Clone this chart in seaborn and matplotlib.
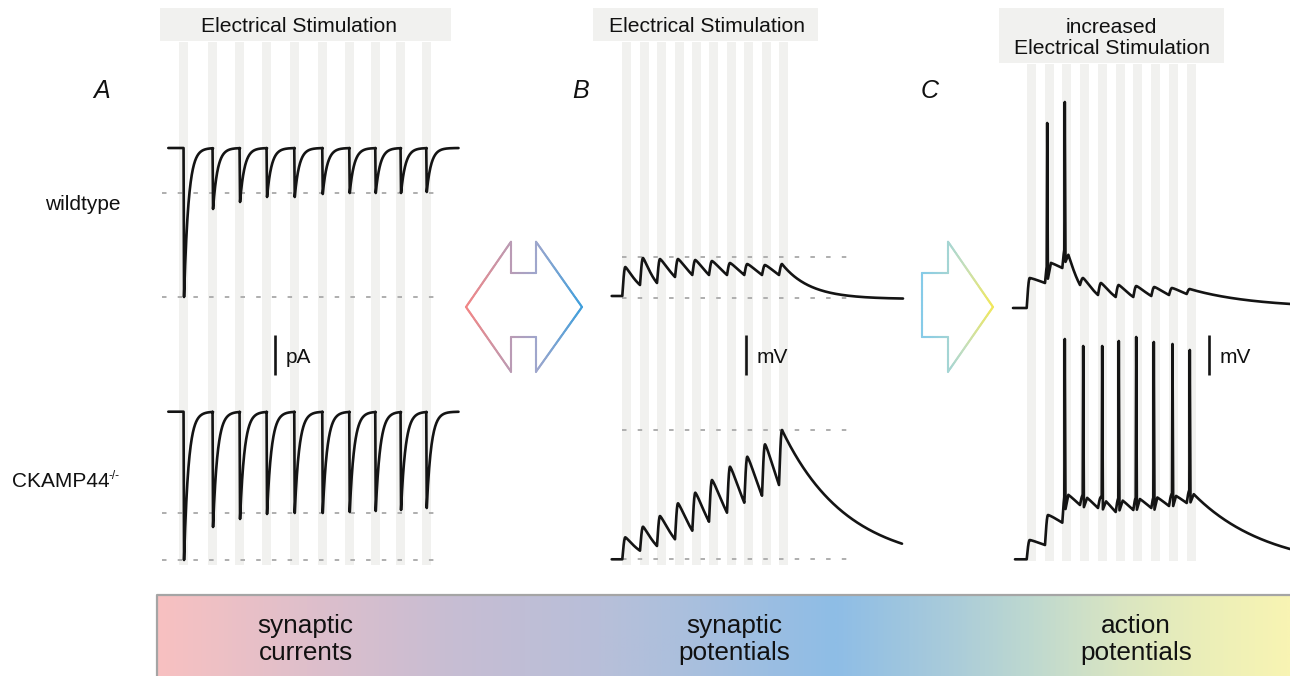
import numpy as np
import seaborn as sns
import matplotlib.pyplot as plt
from matplotlib.collections import LineCollection
from matplotlib.colors import LinearSegmentedColormap
from matplotlib.patches import Rectangle

# stimulus onsets (bar left edges) for each panel
stim_a = [179.3, 208.3, 235.3, 262.3, 290.0, 318.0, 345.0, 371.0, 396.3, 422.0]
stim_b = [622.3, 640.0, 657.0, 675.0, 692.3, 709.0, 727.0, 744.3, 762.0, 779.0]
stim_c = [1026.7, 1045.0, 1062.3, 1080.0, 1098.0, 1115.7, 1133.3, 1151.3, 1169.0, 1186.7]

# A: synaptic currents, trough of each response
epsc_wt = [297, 209, 202, 197, 197, 194, 193, 193, 193, 192]
epsc_ko = [560, 527, 519, 514, 513, 513, 512, 511, 510, 508]

# B: synaptic potentials, peaks and troughs
epsp_wt_peak = [267, 258, 259, 259, 260, 261, 263, 264, 265, 264]
epsp_wt_trough = [285, 283, 277, 275, 275, 275, 275, 275, 275]
epsp_ko_peak = [537.3, 526.7, 516, 503.3, 492.7, 480, 466.7, 456.7, 444.3, 430]
epsp_ko_trough = [550.7, 546, 539.3, 530.7, 521.7, 512.7, 502.7, 495.7, 485]

# C: action potentials
ap_wt_peak = [278, 262, 247, 278, 283, 285, 286, 287, 288, 289]
ap_wt_trough = [283, 268, 285, 295, 297, 297, 296, 295, 294]
ap_wt_spike_x = [1046.7, 1064.3]
ap_wt_spike_top = [123, 102]
ap_ko_peak = [540, 515, 493, 495, 497, 498, 497, 496, 494, 490]
ap_ko_trough = [545, 522.7, 505, 508, 512, 510, 508, 506, 503]
ap_ko_spike_x = [1064.3, 1082.7, 1101.7, 1118.3, 1135.7, 1153.3, 1172.0, 1189.3]
ap_ko_spike_top = [339, 346, 346, 341, 337, 342, 344, 350]

band_labels = [("synaptic", "currents"), ("synaptic", "potentials"), ("action", "potentials")]


def epsc(stim, troughs, base, x0, x1, width=8.5, tau=4.5):
    xs, ys = [x0], [base]
    ends = [s + width / 2 for s in stim[1:]] + [x1]
    prev = base
    for s, tr, nxt in zip(stim, troughs, ends):
        c = s + width / 2
        t = np.linspace(0, nxt - c, 80)
        seg = base + (tr - base) * np.exp(-t / tau)
        xs += [c] + list(c + t + 0.5)
        ys += [prev] + list(seg)
        prev = seg[-1]
    return np.array(xs), np.array(ys)


def epsp(stim, peaks, troughs, base, x0, x1, end_level, end_tau, rise=3.0):
    xs, ys = [x0, stim[0]], [base, base]
    prev = base
    for i, s in enumerate(stim):
        t = np.linspace(0, rise, 12)[1:]
        xs += list(s + t)
        ys += list(prev + (peaks[i] - prev) * np.sin(np.pi / 2 * t / rise))
        if i < len(stim) - 1:
            L = stim[i + 1] - s - rise
            u = np.linspace(0, 1, 30)[1:]
            hp, ht = base - peaks[i], base - troughs[i]
            # rounded top, then decay to the trough
            w = u ** 1.25
            xs += list(s + rise + u * L)
            ys += list(base - hp * (ht / hp) ** w)
            prev = troughs[i]
        else:
            t = np.linspace(0, x1 - s - rise, 200)[1:]
            xs += list(s + rise + t)
            ys += list(end_level + (peaks[i] - end_level) * np.exp(-t / end_tau))
    return np.array(xs), np.array(ys)


def add_spikes(xs, ys, spike_x, tops, depth=12, gap=4.0):
    for sx, top in zip(spike_x, tops):
        by = np.interp(sx, xs, ys)
        keep = (xs < sx) | (xs > sx + gap)
        xs, ys = xs[keep], ys[keep]
        k = np.searchsorted(xs, sx)
        xs = np.concatenate([xs[:k], [sx, sx + 0.5, sx + 1.2], xs[k:]])
        ys = np.concatenate([ys[:k], [by, top, by + depth], ys[k:]])
    return xs, ys


def gradient_outline(ax, pts, cmap, xmin, xmax, lw):
    pts = np.asarray(pts, dtype=float)
    parts = []
    for a, b in zip(pts[:-1], pts[1:]):
        n = max(2, int(np.hypot(*(b - a)) / 1.5))
        parts.append(np.linspace(a, b, n)[:-1])
    path = np.vstack(parts + [pts[-1:]])
    segs = np.stack([path[:-1], path[1:]], axis=1)
    mid = segs.mean(axis=1)[:, 0]
    lc = LineCollection(segs, colors=cmap(np.clip((mid - xmin) / (xmax - xmin), 0, 1)),
                        linewidths=lw, capstyle='round', joinstyle='round')
    ax.add_collection(lc)


sns.set_theme(style="white")
plt.rcParams['font.family'] = ['Liberation Sans', 'DejaVu Sans']
plt.rcParams['text.color'] = '#111111'

fig = plt.figure(figsize=(12.9, 6.76), dpi=100)
ax = fig.add_axes([0, 0, 1, 1])
ax.set_xlim(0, 1290)
ax.set_ylim(676, 0)
ax.axis('off')

grey = '#f1f1ef'
trace_kw = dict(color='#141414', lw=1.9, sort=False, estimator=None, ax=ax)
dash_kw = dict(color='#b0b0b0', lw=1.44, ls=(0, (2.25, 5.6)))

# bottom colour band
band = LinearSegmentedColormap.from_list('band', [
    (0.00, '#f8c1c1'), (0.13, '#dfbfcb'), (0.26, '#c7bdd3'), (0.39, '#b8bfd9'),
    (0.48, '#a8bfde'), (0.60, '#8ebde6'), (0.70, '#a9cbda'), (0.77, '#bdd8d0'),
    (0.85, '#d9e5c2'), (0.93, '#ecefb8'), (1.00, '#f8f4b3')])
ax.imshow(np.linspace(0, 1, 512)[None, :], cmap=band, aspect='auto',
          extent=[157, 1290, 676, 594], zorder=0)
ax.plot([157, 157, 1290], [676, 594.5, 594.5], color='#a5a5a5', lw=1.6, zorder=1)
for (l1, l2), cx in zip(band_labels, [305.7, 734.6, 1136]):
    ax.text(cx, 633, l1, ha='center', va='baseline', fontsize=18.8)
    ax.text(cx, 659.7, l2, ha='center', va='baseline', fontsize=18.8)

# stimulation bars and header boxes
bar_kw = dict(align='edge', color=grey, lw=0, edgecolor='none', zorder=1)
ax.bar(stim_a, 523, width=8.5, bottom=41.5, **bar_kw)
ax.bar(stim_b, 523, width=9, bottom=41.5, **bar_kw)
ax.bar(stim_c, 497, width=9, bottom=64, **bar_kw)
for x0, x1, y1 in [(160, 451, 41), (593, 818, 41), (999, 1224, 63.3)]:
    ax.add_patch(Rectangle((x0, 8), x1 - x0, y1 - 8, facecolor=grey, lw=0, zorder=1))
ax.text(299, 31.7, 'Electrical Stimulation', ha='center', va='baseline', fontsize=15.2)
ax.text(706.7, 31.7, 'Electrical Stimulation', ha='center', va='baseline', fontsize=15.2)
ax.text(1111, 33.3, 'increased', ha='center', va='baseline', fontsize=15.2)
ax.text(1111.5, 54.3, 'Electrical Stimulation', ha='center', va='baseline', fontsize=15.2)

# panel letters and row labels
for letter, lx in [('A', 93), ('B', 572), ('C', 921)]:
    ax.text(lx, 98.3, letter, ha='left', va='baseline', fontsize=18, style='italic')
ax.text(45, 210, 'wildtype', ha='left', va='baseline', fontsize=15)
ax.text(11.7, 486.7, 'CKAMP44', ha='left', va='baseline', fontsize=15)
ax.text(108.3, 479, '-/-', ha='left', va='baseline', fontsize=8.5)

# dashed reference levels
for x0, x1, y in [(162, 440, 193), (162, 440, 297), (162, 440, 513), (162, 440, 560),
                  (622, 850, 256.7), (622, 850, 297.7), (622, 850, 430), (622, 850, 559.3)]:
    ax.plot([x0, x1], [y, y], zorder=2, **dash_kw)

# A: currents
x, y = epsc(stim_a, epsc_wt, 148, 168.3, 458)
sns.lineplot(x=x, y=y, **trace_kw)
x, y = epsc(stim_a, epsc_ko, 411.7, 168.3, 458)
sns.lineplot(x=x, y=y, **trace_kw)

# B: potentials
x, y = epsp(stim_b, epsp_wt_peak, epsp_wt_trough, 296, 611.7, 903, 299, 28)
sns.lineplot(x=x, y=y, **trace_kw)
x, y = epsp(stim_b, epsp_ko_peak, epsp_ko_trough, 559.3, 611.7, 902, 565, 65)
sns.lineplot(x=x, y=y, **trace_kw)

# C: action potentials
x, y = epsp(stim_c, ap_wt_peak, ap_wt_trough, 308, 1013, 1290, 308, 65)
x, y = add_spikes(x, y, ap_wt_spike_x, ap_wt_spike_top)
sns.lineplot(x=x, y=y, **trace_kw)
x, y = epsp(stim_c, ap_ko_peak, ap_ko_trough, 559.3, 1015, 1290, 570, 75)
x, y = add_spikes(x, y, ap_ko_spike_x, ap_ko_spike_top)
sns.lineplot(x=x, y=y, **trace_kw)

# scale bars
for sx, unit in [(275, 'pA'), (746, 'mV'), (1209, 'mV')]:
    ax.plot([sx, sx], [335, 375], color='#141414', lw=1.9, solid_capstyle='butt')
    ax.text(sx + 10.5, 363.3, unit, ha='left', va='baseline', fontsize=15)

# arrows between panels
double_cmap = LinearSegmentedColormap.from_list('dbl', [
    (0.0, '#f28686'), (0.4, '#b89cb6'), (0.6, '#a0a6cc'), (1.0, '#3f9fdc')])
double_pts = [(466, 307), (511, 241.7), (511, 273.3), (536, 273.3), (536, 241.7),
              (582, 307), (536, 371.7), (536, 337.3), (511, 337.3), (511, 371.7), (466, 307)]
gradient_outline(ax, double_pts, double_cmap, 466, 582, 1.5)

right_cmap = LinearSegmentedColormap.from_list('rgt', [
    (0.0, '#86cbe8'), (0.35, '#a2d4d6'), (0.6, '#c4dfbc'), (1.0, '#f2e85a')])
right_pts = [(922, 273.3), (948, 273.3), (948, 241.7), (993, 307), (948, 371.7),
             (948, 337.3), (922, 337.3), (922, 273.3)]
gradient_outline(ax, right_pts, right_cmap, 922, 993, 1.5)

fig.savefig('out.png', dpi=100)
